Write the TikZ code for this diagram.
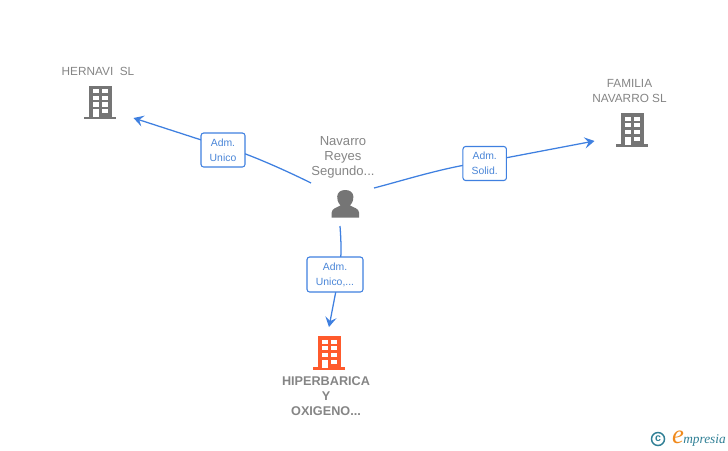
\documentclass[tikz,border=0pt]{standalone}
\usepackage{fontspec}
\setmainfont{Liberation Sans}
\newfontfamily\logofont{Liberation Serif}
\usetikzlibrary{arrows.meta}
\definecolor{edgeblue}{HTML}{3F80E0}
\definecolor{boxtext}{HTML}{4A86D8}
\definecolor{iconGray}{HTML}{757575}
\definecolor{iconOrange}{HTML}{FF5A2C}
\definecolor{labelGray}{HTML}{858585}
\definecolor{logoTeal}{HTML}{2F7F95}
\definecolor{logoOrange}{HTML}{F08A1D}
\tikzset{
  x=0.75pt,y=-0.75pt,
  connector/.style={draw=edgeblue,line width=0.95pt,-{Stealth[length=7.5pt,width=8.5pt,inset=3pt]}},
  rolebox/.style={draw=edgeblue,fill=white,rounded corners=2pt,line width=0.8pt,inner sep=0pt,
     text=boxtext,font=\fontsize{7.8}{11.25}\selectfont,align=center},
  caption/.style={text=labelGray,font=\fontsize{8.85}{11.25}\selectfont,align=center,inner sep=0pt},
  pics/building/.style={code={
    \fill[#1] (-11.5,-33) rectangle (11.5,-1);
    \fill[#1] (-16,-2) rectangle (16,0.5);
    \foreach \yy in {-29.5,-22.8,-16.2}{
      \fill[white] (-6.6,\yy) rectangle (-1.2,\yy+4.2);
      \fill[white] (2.4,\yy) rectangle (8,\yy+4.2);
    }
    \fill[white] (2.4,-9.5) rectangle (8,-5.3);
    \fill[white] (-6.6,-9.5) rectangle (-1.2,-1.5);
  }}
}
\begin{document}
\begin{tikzpicture}
\useasboundingbox (0,0) rectangle (728,450);
% icons
\node[minimum width=32*0.75pt,minimum height=34*0.75pt,inner sep=0pt] (hernavi) at (100,102) {};
\pic at (100,118.5) {building=iconGray};
\node[minimum width=32*0.75pt,minimum height=34*0.75pt,inner sep=0pt] (familia) at (632,129) {};
\pic at (632,146) {building=iconGray};
\node[minimum width=32*0.75pt,minimum height=34*0.75pt,inner sep=0pt] (hiper) at (329,352) {};
\pic at (329,369) {building=iconOrange};
\node[minimum width=28*0.75pt,minimum height=28*0.75pt,inner sep=0pt] (person) at (345,204) {};
\fill[iconGray] (331.7,217.7) -- (331.7,212.5)
   .. controls (331.7,208.5) and (337,207.5) .. (340.5,205.5)
   .. controls (337.5,202) and (337,199) .. (337.2,196.5)
   .. controls (337.5,192) and (341,190) .. (345.3,190)
   .. controls (349.5,190) and (353,192) .. (353.4,196.5)
   .. controls (353.6,199) and (353,202) .. (350,205.5)
   .. controls (353.5,207.5) and (359,208.5) .. (359,212.5)
   -- (359,217.7) -- cycle;
% free ends
\coordinate (p1) at (311,183);
\coordinate (t1) at (133.5,118);
\coordinate (p2) at (374,188);
\coordinate (t2) at (594.5,141);
\coordinate (p3) at (340,226);
\coordinate (t3) at (329,327);
% connectors
\draw[connector] (p1) .. controls (285,170) and (240,150) .. (223,147) -- (t1);
\draw[connector] (p2) .. controls (405,180) and (445,167) .. (484,162) -- (t2);
\draw[connector] (p3) .. controls (341,240) and (342,255) .. (339,275) -- (t3);
% role boxes
\node[rolebox,minimum width=44*0.75pt,minimum height=34*0.75pt] (b1) at (223,150) {Adm.\\Unico};
\node[rolebox,minimum width=43.5*0.75pt,minimum height=34*0.75pt] (b2) at (484.7,163.5) {Adm.\\Solid.};
\node[rolebox,minimum width=56*0.75pt,minimum height=35*0.75pt] (b3) at (335,274.5) {Adm.\\Unico,...};
% captions
\node[caption] (lhernavi) at (98,71.5) {HERNAVI\ \ SL};
\node[caption] (lfamilia) at (629.5,91) {FAMILIA\\NAVARRO SL};
\node[caption,font=\fontsize{9.8}{11.25}\selectfont] (lperson) at (343,157.5) {Navarro\\Reyes\\Segundo...};
\node[caption,font=\fontsize{9.5}{11.25}\selectfont\bfseries] (lhiper) at (326,396.5) {HIPERBARICA\\Y\\OXIGENO...};
% logo
\draw[logoTeal,line width=1.1pt] (658,439) circle (6.5);
\node[text=logoTeal,inner sep=0pt,font=\fontsize{8}{8}\selectfont\bfseries] (copy) at (658,438.5) {c};
\node[text=logoOrange,inner sep=0pt,font=\logofont\itshape\fontsize{20}{20}\selectfont] (logoe) at (678,437) {e};
\node[text=logoTeal,inner sep=0pt,anchor=base west,font=\logofont\itshape\fontsize{10}{12}\selectfont] (logow) at (683,443) {mpresia};
\end{tikzpicture}
\end{document}
